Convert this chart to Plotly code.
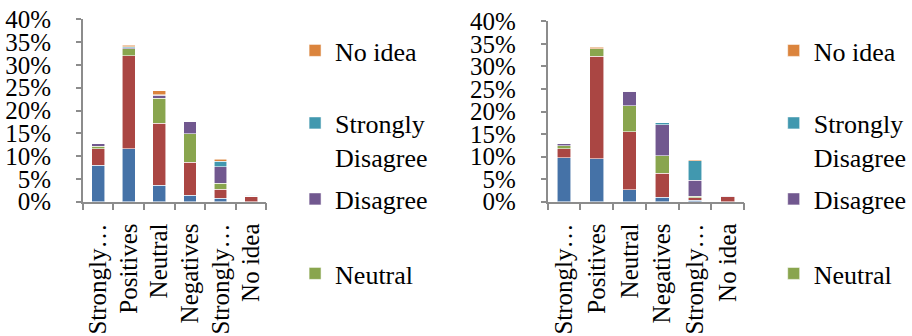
import plotly.graph_objects as go

W, H = 912, 336

# Response categories on the x axis (full names) and the labels drawn for them
categories = ["Strongly positives", "Positives", "Neutral", "Negatives",
              "Strongly negatives", "No idea"]
tick_labels = ["Strongly…", "Positives", "Neutral", "Negatives", "Strongly…", "No idea"]

series_names = ["Strongly Agree", "Agree", "Neutral", "Disagree",
                "Strongly Disagree", "No idea"]
series_colors = ["#4572A7", "#AA4643", "#89A54E", "#71588F", "#4198AF", "#DB843D"]

# Shares in percent, left panel
left_strongly_agree = [8.0, 11.6, 3.6, 1.4, 0.8, 0.0]
left_agree = [3.6, 20.4, 13.6, 7.2, 1.9, 1.2]
left_neutral = [0.6, 1.5, 5.5, 6.3, 1.4, 0.0]
left_disagree = [0.5, 0.3, 0.7, 2.6, 3.6, 0.0]
left_strongly_disagree = [0.0, 0.2, 0.1, 0.0, 1.2, 0.2]
left_no_idea = [0.0, 0.3, 0.8, 0.0, 0.4, 0.0]

# Shares in percent, right panel
right_strongly_agree = [9.8, 9.5, 2.7, 1.0, 0.35, 0.0]
right_agree = [1.9, 22.7, 12.8, 5.3, 0.5, 1.1]
right_neutral = [0.7, 1.7, 5.8, 3.9, 0.4, 0.0]
right_disagree = [0.4, 0.0, 3.2, 6.9, 3.5, 0.15]
right_strongly_disagree = [0.0, 0.0, 0.0, 0.4, 4.3, 0.1]
right_no_idea = [0.0, 0.35, 0.0, 0.0, 0.3, 0.0]

left_series = [left_strongly_agree, left_agree, left_neutral, left_disagree,
               left_strongly_disagree, left_no_idea]
right_series = [right_strongly_agree, right_agree, right_neutral, right_disagree,
                right_strongly_disagree, right_no_idea]

FONT = "Liberation Serif"
AXIS_GREY = "#8C8C8C"


def px_x(x):
    return x / W


def px_y(y):
    return 1 - y / H


# legend slots: series index -> pixel centre of the swatch (y)
legend_rows = {5: 50.5, 4: 124.5, 3: 199.0, 2: 273.5}

fig = go.Figure()
legend_layouts = {}
legend_counter = [0]


def new_legend_name():
    legend_counter[0] += 1
    return "legend" if legend_counter[0] == 1 else f"legend{legend_counter[0]}"


for panel, (data, xa, ya, swatch_x) in enumerate([
        (left_series, "x", "y", 313),
        (right_series, "x2", "y2", 798)]):
    for i, (name, color, vals) in enumerate(zip(series_names, series_colors, data)):
        show = i in legend_rows
        legend_name = None
        label = "Strongly<br>Disagree" if name == "Strongly Disagree" else name
        if show:
            legend_name = new_legend_name()
            multi = "<br>" in label
            legend_layouts[legend_name] = dict(
                x=px_x(swatch_x - 14), xanchor="left",
                y=px_y(legend_rows[i] - (25 if multi else 0)),
                yanchor="top" if multi else "middle",
                valign="top",
                bgcolor="rgba(0,0,0,0)",
                font=dict(family=FONT, size=26, color="#000000"),
                itemclick=False, itemdoubleclick=False,
            )
        fig.add_trace(go.Bar(
            x=categories, y=vals, name=label,
            marker=dict(color=color, line=dict(color="rgba(255,255,255,0.7)", width=0.8)),
            xaxis=xa, yaxis=ya,
            showlegend=show,
            **({"legend": legend_name} if legend_name else {}),
        ))

xaxis_common = dict(
    type="category", categoryorder="array", categoryarray=categories,
    tickmode="array", tickvals=categories, ticktext=tick_labels,
    tickangle=-90, ticks="outside", tickson="boundaries", ticklen=7,
    tickcolor=AXIS_GREY, tickwidth=1.5,
    showline=True, linecolor=AXIS_GREY, linewidth=1.5,
    showgrid=False, zeroline=False, automargin=False,
    tickfont=dict(family=FONT, size=25, color="#000000"),
    ticklabelstandoff=10,
)
yaxis_common = dict(
    range=[0, 40], dtick=5, tick0=0, ticksuffix="%",
    ticks="outside", ticklen=5, tickcolor=AXIS_GREY, tickwidth=1.5,
    showline=True, linecolor=AXIS_GREY, linewidth=1.5,
    showgrid=False, zeroline=False, automargin=False,
    tickfont=dict(family=FONT, size=25, color="#000000"),
    ticklabelstandoff=20,
)

fig.update_layout(
    width=W, height=H,
    margin=dict(l=0, r=0, t=0, b=0),
    paper_bgcolor="white", plot_bgcolor="white",
    barmode="stack", bargap=0.58,
    font=dict(family=FONT, size=25, color="#000000"),
    xaxis=dict(xaxis_common, domain=[px_x(84), px_x(270)], anchor="y"),
    xaxis2=dict(xaxis_common, domain=[px_x(555), px_x(754)], anchor="y2"),
    yaxis=dict(yaxis_common, domain=[px_y(201.7), px_y(19.3)], anchor="x"),
    yaxis2=dict(yaxis_common, domain=[px_y(201.7), px_y(21.3)], anchor="x2"),
    **legend_layouts,
)

fig.write_html("out.html")
